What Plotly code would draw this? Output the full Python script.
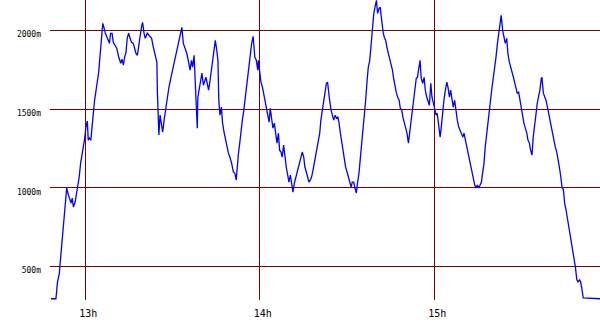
import plotly.graph_objects as go

# time in minutes after 12:00, altitude in metres
minutes = [
    48.2, 49.9, 50.4, 51.1, 51.3, 51.9, 52.4, 52.8, 53.0, 53.4, 53.6, 54.2, 54.7, 55.1, 55.5, 55.9,
    56.5, 57.0, 57.6, 57.9, 58.4, 58.9, 59.3, 59.8, 60.2, 60.7, 61.0, 61.4, 61.9, 62.3, 62.8, 63.2,
    63.7, 64.1, 64.6, 65.1, 65.5, 66.0, 66.4, 66.9, 67.6, 68.3, 68.7, 69.2, 69.6, 70.3, 70.8, 71.5,
    72.2, 72.6, 73.1, 73.5, 74.0, 74.4, 74.9, 75.4, 75.9, 76.5, 77.1, 77.4, 77.9, 78.4, 78.8, 79.3,
    79.7, 80.2, 80.6, 81.3, 82.0, 82.8, 83.4, 84.1, 84.6, 84.8, 85.1, 85.3, 85.7, 86.3, 86.6, 87.1,
    87.8, 88.2, 88.7, 89.4, 90.0, 90.7, 91.4, 92.1, 92.8, 93.2, 93.7, 94.4, 94.9, 95.6, 96.0, 96.5,
    96.9, 97.4, 97.8, 98.3, 98.5, 98.7, 99.2, 99.7, 100.1, 100.6, 101.1, 101.5, 101.9, 102.4, 102.9,
    103.3, 103.8, 104.3, 104.7, 105.2, 105.6, 105.9, 106.3, 106.8, 107.2, 107.7, 108.4, 109.2, 109.7,
    110.3, 110.9,
    111.4, 111.9, 112.2, 112.6, 113.1, 113.5, 114.0, 114.5, 114.9, 115.4, 115.8, 116.3, 116.7, 117.2,
    117.7, 118.1, 118.3, 118.8, 119.3, 119.5, 120.0, 120.4, 120.9, 121.3, 121.8, 122.2, 122.7, 123.2,
    123.6, 124.1, 124.5, 125.0, 125.5, 125.9, 126.4, 126.8, 127.3, 127.7, 128.2, 128.7, 129.1, 129.6,
    130.0, 130.5, 131.0, 131.4, 131.9, 132.3, 132.8, 133.2, 133.7, 134.2, 134.6, 135.1, 135.5, 136.0,
    136.5, 136.9, 137.4, 137.8, 138.3, 138.7, 139.2, 139.7, 140.1, 140.6, 141.0, 141.5, 142.0, 142.4,
    142.9, 143.3, 143.6, 144.0, 144.5, 144.9, 145.4, 145.9, 146.3, 146.8, 147.2, 147.7, 148.2, 148.6,
    149.1, 149.5, 150.0, 150.4, 150.9, 151.4, 151.8, 152.3, 152.7, 153.2, 153.6, 154.1, 154.6, 155.0,
    155.5, 155.9, 156.4, 156.9, 157.3, 157.8, 158.2, 158.7, 159.2, 159.6, 160.1, 160.5, 161.0, 161.4,
    161.9, 162.4, 162.8, 163.3, 163.7, 164.2, 164.7, 165.1, 165.6, 166.0, 166.5, 166.9, 167.4, 167.9,
    168.3, 168.8, 169.2, 169.7, 170.2, 170.6, 171.1, 171.5, 172.0, 172.4, 172.9, 173.4, 173.8,
    174.2, 174.6, 175.1, 175.5, 176.0, 176.5, 176.9, 177.4, 177.8, 178.3, 178.8, 179.2, 179.7, 180.1,
    180.6, 181.0, 181.5, 182.0, 182.4, 182.9, 183.3, 183.8, 184.3, 184.7, 185.2, 185.6, 186.1, 186.5,
    187.0, 187.5, 187.9, 188.4, 188.8, 189.3, 189.8, 190.2, 190.7, 191.1, 191.6, 192.0, 192.5, 193.0,
    193.4, 193.9, 194.3, 194.8, 195.3, 195.7, 196.2, 196.6, 197.1, 197.5, 198.0, 198.5, 198.9, 199.4,
    199.8, 200.3, 200.8, 201.2, 201.7, 202.1, 202.6, 203.0, 203.5, 204.0, 204.4, 204.9, 205.3, 205.8,
    206.3, 206.7, 207.2, 207.6, 208.1, 208.5, 209.0, 209.5, 209.9, 210.4, 210.8, 211.3, 211.8, 212.2,
    212.7, 213.1, 213.6, 214.0, 214.5, 215.0, 215.4, 215.9, 216.3, 216.8, 217.0, 217.5, 218.0, 218.4,
    218.9, 219.3, 219.8, 220.2, 220.7, 221.2, 221.6, 222.1, 222.5, 223.0, 223.5, 223.9, 224.4, 224.8,
    225.3, 225.7, 226.2, 226.7, 227.1, 227.6, 228.0, 228.5, 229.0, 229.4, 229.9, 230.3, 230.8, 231.2,
    237.0,
]

altitude = [
    293, 293, 394, 458, 508, 648, 731, 807, 877, 966, 998, 953, 922, 902, 934, 877,
    909, 966, 1017, 1068, 1157, 1208, 1258, 1316, 1386, 1424, 1303, 1316, 1303, 1411, 1481, 1557,
    1608, 1672, 1735, 1862, 1926, 2046, 2021, 1983, 1951, 1919, 1983, 1983, 1926, 1907, 1888, 1830,
    1792, 1818, 1780, 1830, 1862, 1951, 1983, 1951, 1926, 1919, 1875, 1856, 1843, 1894, 1958, 2021,
    2053, 1983, 1951, 1983, 1970, 1951, 1894, 1843, 1799, 1602, 1494, 1335, 1462, 1386, 1354, 1430,
    1525, 1570, 1633, 1697, 1748, 1811, 1875, 1938, 2002, 2021, 1919, 1875, 1856, 1792, 1748, 1811,
    1767, 1843, 1703, 1449, 1379, 1576, 1640, 1697, 1729, 1652, 1684, 1703, 1665, 1621, 1684,
    1735, 1830, 1888, 1938, 1875, 1811, 1557, 1462, 1513, 1411, 1354, 1290, 1220, 1195,
    1157, 1100,
    1093, 1049, 1131, 1208, 1284, 1366, 1430, 1494, 1557, 1633, 1703, 1767, 1856, 1919,
    1964, 1894, 1830, 1811, 1748, 1811, 1716, 1672, 1640, 1602, 1557, 1506, 1449, 1417,
    1506, 1449, 1379, 1411, 1354, 1284, 1347, 1239, 1227, 1195, 1271, 1176, 1131, 1080,
    1036, 1080, 1017, 972, 1030, 1061, 1093, 1125, 1157, 1195, 1227, 1195, 1131, 1100,
    1061, 1036, 1049, 1068, 1112, 1157, 1208, 1252, 1303, 1347, 1430, 1494, 1557, 1608,
    1665, 1672, 1602, 1557, 1494, 1462, 1430, 1462, 1443, 1449, 1417, 1347, 1284, 1220,
    1163, 1131, 1100, 1068, 1030, 1004, 1036, 1036, 998, 966, 1030, 1093, 1195, 1271,
    1366, 1474, 1557, 1684, 1767, 1811, 1894, 2021, 2110, 2148, 2193, 2110, 2142, 2148,
    2046, 1989, 1958, 1938, 1894, 1856, 1811, 1780, 1748, 1697, 1640, 1608, 1576, 1557,
    1506, 1494, 1449, 1417, 1379, 1347, 1284, 1347, 1430, 1494, 1557, 1633, 1697,
    1703, 1767, 1811, 1697, 1665, 1703, 1621, 1576, 1557, 1525, 1665, 1576, 1538, 1494,
    1462, 1474, 1386, 1322, 1386, 1494, 1557, 1621, 1672, 1640, 1576, 1621, 1538, 1513,
    1557, 1474, 1430, 1386, 1366, 1347, 1322, 1347, 1303, 1258, 1208, 1176, 1131, 1093,
    1049, 1017, 998, 1017, 998, 1017, 1036, 1093, 1157, 1258, 1347, 1430, 1494, 1570,
    1633, 1703, 1767, 1830, 1919, 1983, 2046, 2097, 2002, 1958, 1919, 1951, 1856, 1799,
    1767, 1748, 1703, 1672, 1640, 1602, 1608, 1557, 1494, 1449, 1411, 1379, 1347, 1303,
    1284, 1239, 1208, 1322, 1386, 1474, 1538, 1576, 1621, 1697, 1703, 1602, 1576, 1557,
    1513, 1474, 1417, 1386, 1335, 1290, 1258, 1227, 1189, 1131, 1068, 1004, 985, 902,
    858, 814, 750, 687, 636, 591, 553, 496, 413, 401, 413, 401, 350, 299,
    293,
]

x_tick_vals = [60, 120, 180]
x_tick_text = ["13h", "14h", "15h"]
y_tick_vals = [500, 1000, 1500, 2000]
y_tick_text = ["500m", "1000m", "1500m", "2000m"]

fig = go.Figure(
    go.Scatter(
        x=minutes,
        y=altitude,
        mode="lines",
        line=dict(color="#0000FF", width=1.3),
        hoverinfo="skip",
    )
)

grid = "#800000"
fig.update_layout(
    width=600,
    height=330,
    margin=dict(l=50, r=0, t=0, b=30),
    paper_bgcolor="white",
    plot_bgcolor="white",
    showlegend=False,
    xaxis=dict(
        range=[47.86, 236.97],
        tickvals=x_tick_vals,
        ticktext=x_tick_text,
        showgrid=True,
        gridcolor=grid,
        gridwidth=1,
        zeroline=False,
        showline=False,
        ticks="",
        ticklabelshift=3,
        ticklabelstandoff=6,
        tickfont=dict(family="DejaVu Sans Mono", size=10, color="black"),
    ),
    yaxis=dict(
        range=[285, 2195],
        tickvals=y_tick_vals,
        ticktext=y_tick_text,
        showgrid=True,
        gridcolor=grid,
        gridwidth=1,
        zeroline=False,
        showline=False,
        ticks="",
        ticklabelshift=4,
        ticklabelstandoff=8,
        tickfont=dict(family="DejaVu Sans Mono", size=8, color="black"),
    ),
)

fig.write_html("out.html")
